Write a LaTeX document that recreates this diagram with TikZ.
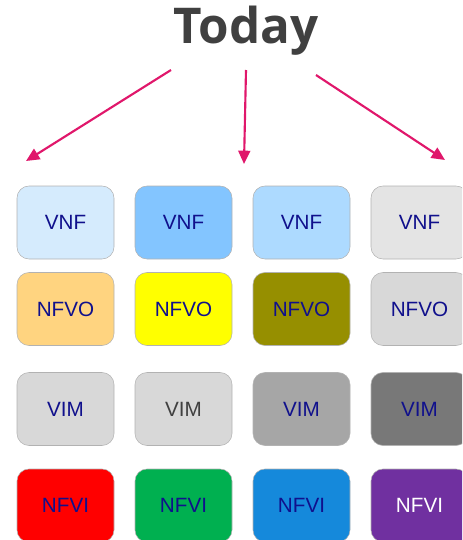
\documentclass[tikz,border=0pt]{standalone}
\usepackage{fontspec}
\setmainfont{Liberation Sans}
\newfontfamily\titlefont{Open Sans}
\usetikzlibrary{arrows.meta}
\definecolor{navy}{RGB}{16,16,140}
\definecolor{arrowc}{RGB}{224,23,107}
\definecolor{titlec}{RGB}{64,64,64}
\definecolor{cA}{RGB}{213,235,253}
\definecolor{cB}{RGB}{131,197,255}
\definecolor{cC}{RGB}{173,218,255}
\definecolor{cD}{RGB}{228,228,228}
\definecolor{cE}{RGB}{255,212,128}
\definecolor{cF}{RGB}{255,255,0}
\definecolor{cG}{RGB}{150,143,0}
\definecolor{cH}{RGB}{216,216,216}
\definecolor{cI}{RGB}{166,166,166}
\definecolor{cJ}{RGB}{120,120,120}
\definecolor{cK}{RGB}{255,0,0}
\definecolor{cL}{RGB}{0,176,80}
\definecolor{cM}{RGB}{21,137,219}
\definecolor{cN}{RGB}{112,48,160}
\tikzset{
  x=0.75pt, y=-0.75pt,
  box/.style={draw=black!30, line width=0.4pt, rounded corners=9pt,
    minimum width=72.75pt, minimum height=54.75pt, inner sep=0pt,
    text=navy, font=\fontsize{15.5pt}{18pt}\selectfont},
  arr/.style={draw=arrowc, line width=1.6pt, -{Triangle[length=10pt,width=9pt]}},
}
\begin{document}
\begin{tikzpicture}
\useasboundingbox (0,0) rectangle (462,540);
\clip (0,0) rectangle (462,540);
\node[text=titlec, font=\titlefont\bfseries\fontsize{37pt}{40pt}\selectfont] (title) at (246,31) {Today};
\coordinate (s1) at (171,70);
\coordinate (s2) at (246,70);
\coordinate (s3) at (316,75);
\coordinate (e1) at (26,161);
\coordinate (e2) at (244,164);
\coordinate (e3) at (445,160);
\draw[arr] (s1) -- (e1);
\draw[arr] (s2) -- (e2);
\draw[arr] (s3) -- (e3);
% row 1
\node[box, fill=cA] (vnf1) at (65.5,222.5) {VNF};
\node[box, fill=cB] (vnf2) at (183.5,222.5) {VNF};
\node[box, fill=cC] (vnf3) at (301.5,222.5) {VNF};
\node[box, fill=cD] (vnf4) at (419.5,222.5) {VNF};
% row 2
\node[box, fill=cE] (nfvo1) at (65.5,309) {NFVO};
\node[box, fill=cF] (nfvo2) at (183.5,309) {NFVO};
\node[box, fill=cG] (nfvo3) at (301.5,309) {NFVO};
\node[box, fill=cH] (nfvo4) at (419.5,309) {NFVO};
% row 3
\node[box, fill=cH] (vim1) at (65.5,409) {VIM};
\node[box, fill=cH, text=titlec] (vim2) at (183.5,409) {VIM};
\node[box, fill=cI] (vim3) at (301.5,409) {VIM};
\node[box, fill=cJ] (vim4) at (419.5,409) {VIM};
% row 4
\node[box, fill=cK] (nfvi1) at (65.5,505.5) {NFVI};
\node[box, fill=cL] (nfvi2) at (183.5,505.5) {NFVI};
\node[box, fill=cM] (nfvi3) at (301.5,505.5) {NFVI};
\node[box, fill=cN, text=white] (nfvi4) at (419.5,505.5) {NFVI};
\end{tikzpicture}
\end{document}
